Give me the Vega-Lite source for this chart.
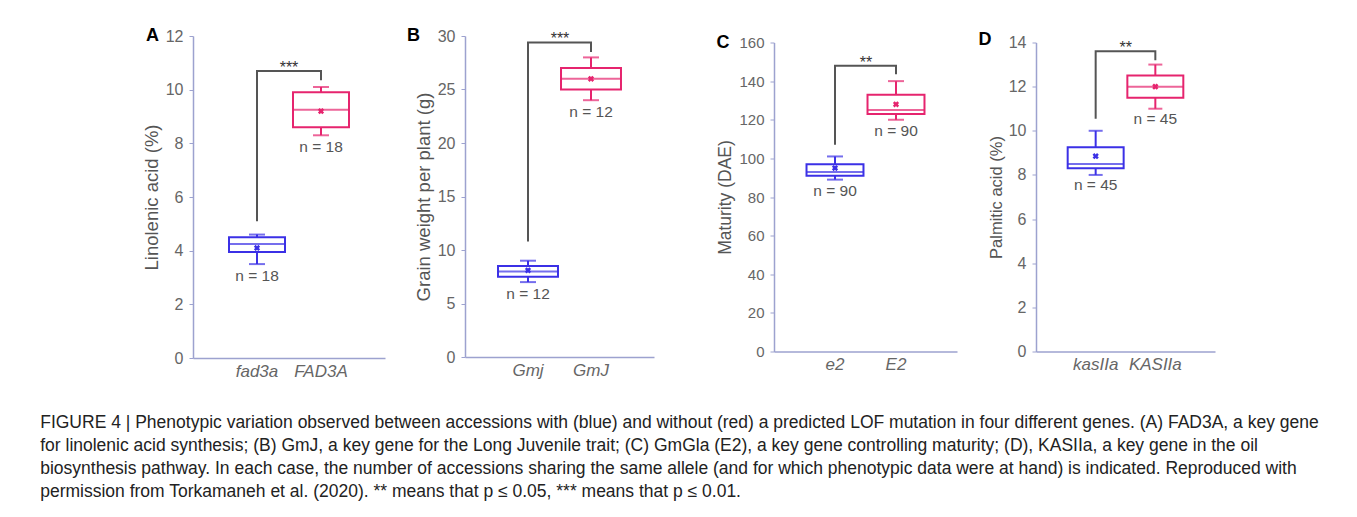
{
  "$schema": "https://vega.github.io/schema/vega-lite/v6.json",
  "background": "white",
  "padding": {"left": 40, "top": 27, "right": 5, "bottom": 5},
  "title": {
    "text": [
      "FIGURE 4 | Phenotypic variation observed between accessions with (blue) and without (red) a predicted LOF mutation in four different genes. (A) FAD3A, a key gene",
      "for linolenic acid synthesis; (B) GmJ, a key gene for the Long Juvenile trait; (C) GmGla (E2), a key gene controlling maturity; (D), KASIIa, a key gene in the oil",
      "biosynthesis pathway. In each case, the number of accessions sharing the same allele (and for which phenotypic data were at hand) is indicated. Reproduced with",
      "permission from Torkamaneh et al. (2020). ** means that p ≤ 0.05, *** means that p ≤ 0.01."
    ],
    "orient": "bottom", "anchor": "start", "frame": "bounds", "offset": 35, "dx": -102,
    "fontSize": 17.5, "fontWeight": "normal", "color": "#222222", "lineHeight": 23, "baseline": "top"
  },
  "spacing": 62,
  "center": true,
  "hconcat": [
    {
      "spacing": 22,
      "hconcat": [
        {
          "width": 192, "height": 322,
          "encoding": {"x": {"field": "g", "type": "nominal", "sort": ["fad3a", "FAD3A"], "scale": {"paddingInner": 0.125, "paddingOuter": 0.5625}, "axis": {"title": null}}},
          "layer": [
            {
              "data": {"values": [
                {"g": "fad3a", "a": "LOF", "min": 3.5, "q1": 3.95, "med": 4.25, "q3": 4.5, "max": 4.6, "mean": 4.1, "n": "n = 18"},
                {"g": "FAD3A", "a": "WT", "min": 8.3, "q1": 8.6, "med": 9.25, "q3": 9.9, "max": 10.1, "mean": 9.2, "n": "n = 18"}
              ]},
              "layer": [
                {"mark": {"type": "rule", "strokeWidth": 2}, "encoding": {"y": {"field": "min", "type": "quantitative", "scale": {"domain": [0, 12], "nice": false}, "axis": {"title": "Linolenic acid (%)", "values": [0, 2, 4, 6, 8, 10, 12], "tickCount": 20, "format": "d", "titleFontSize": 18.5}}, "y2": {"field": "max"}, "color": {"field": "a", "type": "nominal", "scale": {"domain": ["LOF", "WT"], "range": ["#3b30e6", "#e6246e"]}, "legend": null}}},
                {"mark": {"type": "bar", "fill": "white", "strokeWidth": 2}, "encoding": {"y": {"field": "q1", "type": "quantitative"}, "y2": {"field": "q3"}, "stroke": {"field": "a", "type": "nominal", "scale": {"domain": ["LOF", "WT"], "range": ["#3b30e6", "#e6246e"]}, "legend": null}}},
                {"mark": {"type": "tick", "thickness": 2, "size": 56}, "encoding": {"y": {"field": "med", "type": "quantitative"}, "color": {"field": "a", "type": "nominal", "legend": null}}},
                {"mark": {"type": "tick", "thickness": 2, "size": 16}, "encoding": {"y": {"field": "min", "type": "quantitative"}, "color": {"field": "a", "type": "nominal", "legend": null}}},
                {"mark": {"type": "tick", "thickness": 2, "size": 16}, "encoding": {"y": {"field": "max", "type": "quantitative"}, "color": {"field": "a", "type": "nominal", "legend": null}}},
                {"mark": {"type": "point", "shape": "cross", "angle": 45, "filled": true, "size": 40, "opacity": 1}, "encoding": {"y": {"field": "mean", "type": "quantitative"}, "color": {"field": "a", "type": "nominal", "legend": null}}},
                {"mark": {"type": "text", "baseline": "middle", "dy": 12, "fontSize": 15.5, "color": "#555555"}, "encoding": {"y": {"field": "min", "type": "quantitative"}, "text": {"field": "n"}}}
              ]
            },
            {
              "data": {"values": [
                {"g": "fad3a", "v": 5.1, "o": 1}, {"g": "fad3a", "v": 10.7, "o": 2},
                {"g": "FAD3A", "v": 10.7, "o": 3}, {"g": "FAD3A", "v": 10.35, "o": 4}
              ]},
              "mark": {"type": "line", "color": "#555555", "strokeWidth": 2},
              "encoding": {"y": {"field": "v", "type": "quantitative"}, "order": {"field": "o", "type": "quantitative"}}
            },
            {
              "data": {"values": [{"g": "fad3a", "v": 10.7, "t": "***"}]},
              "mark": {"type": "text", "baseline": "alphabetic", "dx": 32, "dy": 2, "fontSize": 16, "color": "#333333"},
              "encoding": {"y": {"field": "v", "type": "quantitative"}, "text": {"field": "t"}}
            },
            {
              "data": {"values": [{"g": "fad3a", "v": 12, "t": "A"}]},
              "mark": {"type": "text", "align": "center", "baseline": "middle", "dx": -104.5, "fontSize": 18, "fontWeight": "bold", "color": "#000000"},
              "encoding": {"y": {"field": "v", "type": "quantitative"}, "text": {"field": "t"}}
            }
          ]
        },
        {
          "width": 189, "height": 321,
          "encoding": {"x": {"field": "g", "type": "nominal", "sort": ["Gmj", "GmJ"], "scale": {"paddingInner": 0.048, "paddingOuter": 0.524}, "axis": {"title": null}}},
          "layer": [
            {
              "data": {"values": [
                {"g": "Gmj", "a": "LOF", "min": 7, "q1": 7.5, "med": 8, "q3": 8.5, "max": 9, "mean": 8.1, "n": "n = 12"},
                {"g": "GmJ", "a": "WT", "min": 24, "q1": 25, "med": 26, "q3": 27, "max": 28, "mean": 26, "n": "n = 12"}
              ]},
              "layer": [
                {"mark": {"type": "rule", "strokeWidth": 2}, "encoding": {"y": {"field": "min", "type": "quantitative", "scale": {"domain": [0, 30], "nice": false}, "axis": {"title": "Grain weight per plant (g)", "values": [0, 5, 10, 15, 20, 25, 30], "tickCount": 20, "format": "d", "titleFontSize": 18.5}}, "y2": {"field": "max"}, "color": {"field": "a", "type": "nominal", "legend": null}}},
                {"mark": {"type": "bar", "fill": "white", "strokeWidth": 2}, "encoding": {"y": {"field": "q1", "type": "quantitative"}, "y2": {"field": "q3"}, "stroke": {"field": "a", "type": "nominal", "legend": null}}},
                {"mark": {"type": "tick", "thickness": 2, "size": 60}, "encoding": {"y": {"field": "med", "type": "quantitative"}, "color": {"field": "a", "type": "nominal", "legend": null}}},
                {"mark": {"type": "tick", "thickness": 2, "size": 16}, "encoding": {"y": {"field": "min", "type": "quantitative"}, "color": {"field": "a", "type": "nominal", "legend": null}}},
                {"mark": {"type": "tick", "thickness": 2, "size": 16}, "encoding": {"y": {"field": "max", "type": "quantitative"}, "color": {"field": "a", "type": "nominal", "legend": null}}},
                {"mark": {"type": "point", "shape": "cross", "angle": 45, "filled": true, "size": 40, "opacity": 1}, "encoding": {"y": {"field": "mean", "type": "quantitative"}, "color": {"field": "a", "type": "nominal", "legend": null}}},
                {"mark": {"type": "text", "baseline": "middle", "dy": 12, "fontSize": 15.5, "color": "#555555"}, "encoding": {"y": {"field": "min", "type": "quantitative"}, "text": {"field": "n"}}}
              ]
            },
            {
              "data": {"values": [
                {"g": "Gmj", "v": 10.8, "o": 1}, {"g": "Gmj", "v": 29.4, "o": 2},
                {"g": "GmJ", "v": 29.4, "o": 3}, {"g": "GmJ", "v": 28.5, "o": 4}
              ]},
              "mark": {"type": "line", "color": "#555555", "strokeWidth": 2},
              "encoding": {"y": {"field": "v", "type": "quantitative"}, "order": {"field": "o", "type": "quantitative"}}
            },
            {
              "data": {"values": [{"g": "Gmj", "v": 29.4, "t": "***"}]},
              "mark": {"type": "text", "baseline": "alphabetic", "dx": 32, "dy": 2, "fontSize": 16, "color": "#333333"},
              "encoding": {"y": {"field": "v", "type": "quantitative"}, "text": {"field": "t"}}
            },
            {
              "data": {"values": [{"g": "Gmj", "v": 30, "t": "B"}]},
              "mark": {"type": "text", "align": "center", "baseline": "middle", "dx": -114.5, "fontSize": 18, "fontWeight": "bold", "color": "#000000"},
              "encoding": {"y": {"field": "v", "type": "quantitative"}, "text": {"field": "t"}}
            }
          ]
        }
      ]
    },
    {
      "spacing": 21,
      "hconcat": [
        {
          "width": 183, "height": 309,
          "encoding": {"x": {"field": "g", "type": "nominal", "sort": ["e2", "E2"], "scale": {"paddingInner": 0.066, "paddingOuter": 0.533}, "axis": {"title": null}}},
          "layer": [
            {
              "data": {"values": [
                {"g": "e2", "a": "LOF", "min": 89, "q1": 91, "med": 93, "q3": 97, "max": 101, "mean": 95, "n": "n = 90"},
                {"g": "E2", "a": "WT", "min": 120, "q1": 123, "med": 125, "q3": 133, "max": 140, "mean": 128, "n": "n = 90"}
              ]},
              "layer": [
                {"mark": {"type": "rule", "strokeWidth": 2}, "encoding": {"y": {"field": "min", "type": "quantitative", "scale": {"domain": [0, 160], "nice": false}, "axis": {"title": "Maturity (DAE)", "values": [0, 20, 40, 60, 80, 100, 120, 140, 160], "tickCount": 20, "format": "d", "titleFontSize": 17.5, "labelFontSize": 15}}, "y2": {"field": "max"}, "color": {"field": "a", "type": "nominal", "legend": null}}},
                {"mark": {"type": "bar", "fill": "white", "strokeWidth": 2}, "encoding": {"y": {"field": "q1", "type": "quantitative"}, "y2": {"field": "q3"}, "stroke": {"field": "a", "type": "nominal", "legend": null}}},
                {"mark": {"type": "tick", "thickness": 2, "size": 57}, "encoding": {"y": {"field": "med", "type": "quantitative"}, "color": {"field": "a", "type": "nominal", "legend": null}}},
                {"mark": {"type": "tick", "thickness": 2, "size": 16}, "encoding": {"y": {"field": "min", "type": "quantitative"}, "color": {"field": "a", "type": "nominal", "legend": null}}},
                {"mark": {"type": "tick", "thickness": 2, "size": 16}, "encoding": {"y": {"field": "max", "type": "quantitative"}, "color": {"field": "a", "type": "nominal", "legend": null}}},
                {"mark": {"type": "point", "shape": "cross", "angle": 45, "filled": true, "size": 40, "opacity": 1}, "encoding": {"y": {"field": "mean", "type": "quantitative"}, "color": {"field": "a", "type": "nominal", "legend": null}}},
                {"mark": {"type": "text", "baseline": "middle", "dy": 11, "fontSize": 15.5, "color": "#555555"}, "encoding": {"y": {"field": "min", "type": "quantitative"}, "text": {"field": "n"}}}
              ]
            },
            {
              "data": {"values": [
                {"g": "e2", "v": 107, "o": 1}, {"g": "e2", "v": 148, "o": 2},
                {"g": "E2", "v": 148, "o": 3}, {"g": "E2", "v": 143.5, "o": 4}
              ]},
              "mark": {"type": "line", "color": "#555555", "strokeWidth": 2},
              "encoding": {"y": {"field": "v", "type": "quantitative"}, "order": {"field": "o", "type": "quantitative"}}
            },
            {
              "data": {"values": [{"g": "e2", "v": 148, "t": "**"}]},
              "mark": {"type": "text", "baseline": "alphabetic", "dx": 31, "dy": 2, "fontSize": 16, "color": "#333333"},
              "encoding": {"y": {"field": "v", "type": "quantitative"}, "text": {"field": "t"}}
            },
            {
              "data": {"values": [{"g": "e2", "v": 160, "t": "C"}]},
              "mark": {"type": "text", "align": "center", "baseline": "middle", "dx": -112, "fontSize": 18, "fontWeight": "bold", "color": "#000000"},
              "encoding": {"y": {"field": "v", "type": "quantitative"}, "text": {"field": "t"}}
            }
          ]
        },
        {
          "width": 179, "height": 309,
          "encoding": {"x": {"field": "g", "type": "nominal", "sort": ["kasIIa", "KASIIa"], "scale": {"paddingInner": 0.062, "paddingOuter": 0.531}, "axis": {"title": null}}},
          "layer": [
            {
              "data": {"values": [
                {"g": "kasIIa", "a": "LOF", "min": 8, "q1": 8.3, "med": 8.5, "q3": 9.25, "max": 10, "mean": 8.85, "n": "n = 45"},
                {"g": "KASIIa", "a": "WT", "min": 11, "q1": 11.5, "med": 12, "q3": 12.5, "max": 13, "mean": 12, "n": "n = 45"}
              ]},
              "layer": [
                {"mark": {"type": "rule", "strokeWidth": 2}, "encoding": {"y": {"field": "min", "type": "quantitative", "scale": {"domain": [0, 14], "nice": false}, "axis": {"title": "Palmitic acid (%)", "values": [0, 2, 4, 6, 8, 10, 12, 14], "tickCount": 20, "format": "d", "titleFontSize": 16.5}}, "y2": {"field": "max"}, "color": {"field": "a", "type": "nominal", "legend": null}}},
                {"mark": {"type": "bar", "fill": "white", "strokeWidth": 2}, "encoding": {"y": {"field": "q1", "type": "quantitative"}, "y2": {"field": "q3"}, "stroke": {"field": "a", "type": "nominal", "legend": null}}},
                {"mark": {"type": "tick", "thickness": 2, "size": 56}, "encoding": {"y": {"field": "med", "type": "quantitative"}, "color": {"field": "a", "type": "nominal", "legend": null}}},
                {"mark": {"type": "tick", "thickness": 2, "size": 14}, "encoding": {"y": {"field": "min", "type": "quantitative"}, "color": {"field": "a", "type": "nominal", "legend": null}}},
                {"mark": {"type": "tick", "thickness": 2, "size": 14}, "encoding": {"y": {"field": "max", "type": "quantitative"}, "color": {"field": "a", "type": "nominal", "legend": null}}},
                {"mark": {"type": "point", "shape": "cross", "angle": 45, "filled": true, "size": 40, "opacity": 1}, "encoding": {"y": {"field": "mean", "type": "quantitative"}, "color": {"field": "a", "type": "nominal", "legend": null}}},
                {"mark": {"type": "text", "baseline": "middle", "dy": 10, "fontSize": 15.5, "color": "#555555"}, "encoding": {"y": {"field": "min", "type": "quantitative"}, "text": {"field": "n"}}}
              ]
            },
            {
              "data": {"values": [
                {"g": "kasIIa", "v": 10.55, "o": 1}, {"g": "kasIIa", "v": 13.6, "o": 2},
                {"g": "KASIIa", "v": 13.6, "o": 3}, {"g": "KASIIa", "v": 13.2, "o": 4}
              ]},
              "mark": {"type": "line", "color": "#555555", "strokeWidth": 2},
              "encoding": {"y": {"field": "v", "type": "quantitative"}, "order": {"field": "o", "type": "quantitative"}}
            },
            {
              "data": {"values": [{"g": "kasIIa", "v": 13.6, "t": "**"}]},
              "mark": {"type": "text", "baseline": "alphabetic", "dx": 30, "dy": 2, "fontSize": 16, "color": "#333333"},
              "encoding": {"y": {"field": "v", "type": "quantitative"}, "text": {"field": "t"}}
            },
            {
              "data": {"values": [{"g": "kasIIa", "v": 14, "t": "D"}]},
              "mark": {"type": "text", "align": "center", "baseline": "middle", "dx": -110.7, "dy": -3, "fontSize": 18, "fontWeight": "bold", "color": "#000000"},
              "encoding": {"y": {"field": "v", "type": "quantitative"}, "text": {"field": "t"}}
            }
          ]
        }
      ]
    }
  ],
  "config": {
    "font": "Liberation Sans",
    "view": {"stroke": null},
    "axis": {"grid": false, "domainColor": "#9da2cf", "domainWidth": 1.5, "tickColor": "#9da2cf", "labelFontSize": 16, "labelColor": "#666666", "labelOverlap": false, "titleFontSize": 17, "titleFontWeight": "normal", "titleColor": "#555555"},
    "axisY": {"tickSize": 4, "labelPadding": 6, "titlePadding": 4},
    "axisX": {"ticks": false, "labelPadding": 5, "labelFontStyle": "italic", "labelAngle": 0, "labelFontSize": 17}
  }
}
